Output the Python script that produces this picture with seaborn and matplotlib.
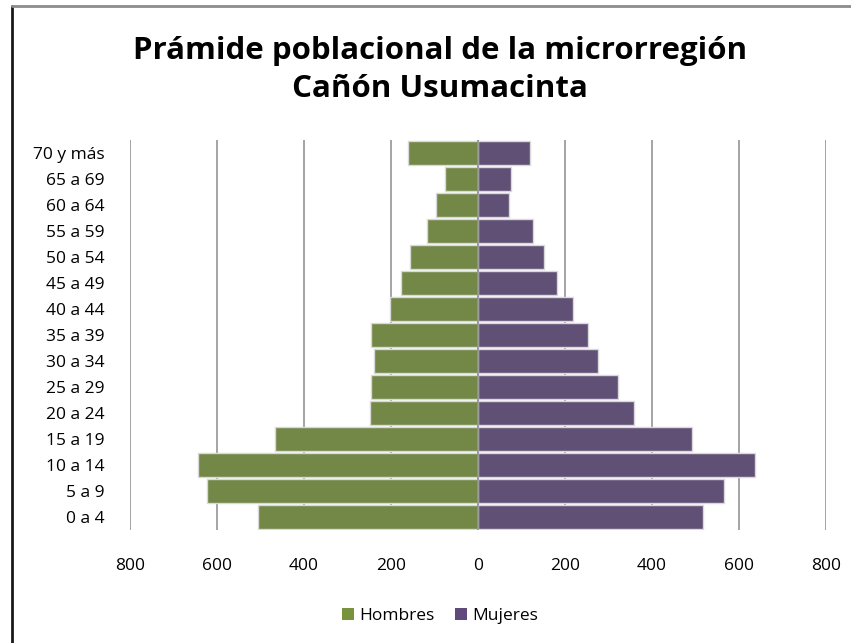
import matplotlib
matplotlib.use("Agg")
import matplotlib.pyplot as plt
import seaborn as sns
import pandas as pd
from matplotlib.lines import Line2D
from matplotlib.patches import Patch

categories = ["70 y más", "65 a 69", "60 a 64", "55 a 59", "50 a 54", "45 a 49",
              "40 a 44", "35 a 39", "30 a 34", "25 a 29", "20 a 24", "15 a 19",
              "10 a 14", "5 a 9", "0 a 4"]
hombres = [160, 76, 96, 117, 157, 178, 203, 245, 240, 245, 249, 467, 644, 623, 506]
mujeres = [119, 76, 72, 127, 151, 181, 218, 254, 277, 322, 359, 492, 637, 566, 517]
x_ticks = [-800, -600, -400, -200, 0, 200, 400, 600, 800]
x_tick_labels = ["800", "600", "400", "200", "0", "200", "400", "600", "800"]
title = "Prámide poblacional de la microrregión\nCañón Usumacinta"

green = "#77933C"
purple = "#604A7B"

sns.set_theme(style="white")
plt.rcParams["font.family"] = ["Open Sans", "DejaVu Sans"]
plt.rcParams["text.color"] = "#000000"

df = pd.DataFrame({
    "grupo": categories * 2,
    "valor": [-v for v in hombres] + mujeres,
    "sexo": ["Hombres"] * len(categories) + ["Mujeres"] * len(categories),
})

fig = plt.figure(figsize=(8.51, 6.43), dpi=100)
W, H = 851, 643
ax = fig.add_axes([130 / W, (H - 530) / H, 696 / W, 390 / H])

sns.barplot(data=df, x="valor", y="grupo", hue="sexo", order=categories,
            palette={"Hombres": green, "Mujeres": purple}, dodge=False,
            orient="h", width=0.9, edgecolor="#D9D9D9", linewidth=1,
            legend=False, ax=ax, zorder=3)

ax.set_xlim(-800, 800)
ax.set_xticks(x_ticks)
ax.set_xticklabels(x_tick_labels)
ax.set_xlabel("")
ax.set_ylabel("")
for s in ax.spines.values():
    s.set_visible(False)
ax.grid(False)
for xv in x_ticks:
    ax.axvline(xv, color="#8C8C8C", lw=1.1, zorder=1)
ax.axvline(0, color="#8C8C8C", lw=1.1, zorder=4)
ax.tick_params(axis="x", length=0, pad=20, labelsize=12.5, colors="#000000")
ax.tick_params(axis="y", length=0, pad=18, labelsize=12.5, colors="#000000")

fig.text(440 / W, 1 - 70 / H, title, ha="center", va="center",
         fontsize=22.5, fontweight="bold", linespacing=1.35, color="#000000")

handles = [Patch(facecolor=green, edgecolor="none", label="Hombres"),
           Patch(facecolor=purple, edgecolor="none", label="Mujeres")]
fig.legend(handles=handles, loc="center", bbox_to_anchor=(440 / W, 1 - 616 / H),
           ncol=2, frameon=False, fontsize=12.5, handlelength=0.7, handleheight=0.7,
           handletextpad=0.3, columnspacing=1.2, labelcolor="#000000")

fig.add_artist(Line2D([12 / W, 12 / W], [0, 1 - 6 / H], color="#1A1A1A", lw=2,
                      transform=fig.transFigure))
fig.add_artist(Line2D([12 / W, 1], [1 - 6 / H, 1 - 6 / H], color="#8C8C8C", lw=2,
                      transform=fig.transFigure))

fig.savefig("out.png", dpi=100)
